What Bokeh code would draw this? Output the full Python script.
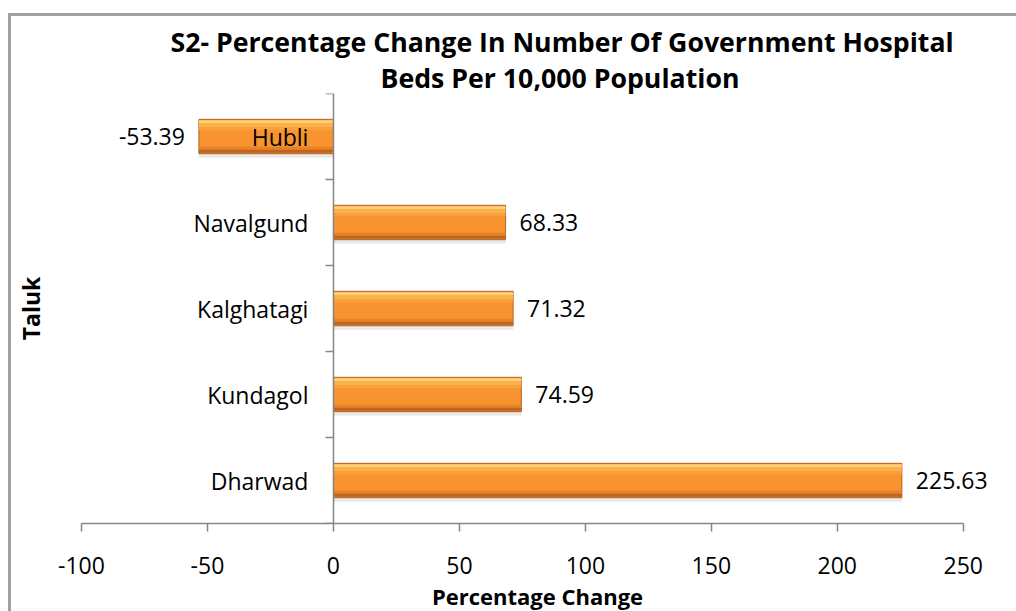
from bokeh.plotting import figure
from bokeh.models import (Range1d, FixedTicker, LinearAxis, Title, ColumnDataSource, LabelSet)
from bokeh.core.properties import value
from bokeh.transform import dodge
from bokeh.embed import file_html
from bokeh.resources import INLINE

talukas = ["Dharwad", "Kundagol", "Kalghatagi", "Navalgund", "Hubli"]
pct_change = [225.63, 74.59, 71.32, 68.33, -53.39]
x_ticks = [-100, -50, 0, 50, 100, 150, 200, 250]
title_line1 = "S2- Percentage Change In Number Of Government Hospital"
title_line2 = "Beds Per 10,000 Population"
x_title = "Percentage Change"
y_title = "Taluk"

FONT = "Open Sans"
AX = "#868686"

ypos = [i + 0.5 for i in range(len(talukas))]
src = ColumnDataSource(dict(y=ypos, v=pct_change))
pos = ColumnDataSource(dict(
    y=[y for y, v in zip(ypos, pct_change) if v >= 0],
    v=[v for v in pct_change if v >= 0],
    lab=["%.2f" % v for v in pct_change if v >= 0]))
neg = ColumnDataSource(dict(
    y=[y for y, v in zip(ypos, pct_change) if v < 0],
    v=[v for v in pct_change if v < 0],
    lab=["%.2f" % v for v in pct_change if v < 0]))

p = figure(width=1005, height=595, output_backend="svg", toolbar_location=None,
           x_range=Range1d(-100, 262), y_range=Range1d(0, len(talukas)),
           min_border_left=70, min_border_right=23, min_border_top=77, min_border_bottom=88,
           styles={"border-top": "3px solid #a0a0a0", "border-left": "3px solid #a0a0a0",
                   "margin-top": "13px", "margin-left": "8px"})
p.frame_width = 912
p.frame_height = 430
p.outline_line_color = None
p.xgrid.visible = False
p.ygrid.visible = False

# x axis
xa = p.xaxis[0]
xa.ticker = FixedTicker(ticks=x_ticks)
xa.bounds = (x_ticks[0], x_ticks[-1])
xa.major_label_overrides = {t: str(t) for t in x_ticks}
xa.axis_line_color = AX
xa.axis_line_width = 1.5
xa.major_tick_line_color = AX
xa.major_tick_line_width = 1.5
xa.major_tick_out = 8
xa.major_tick_in = 0
xa.minor_tick_line_color = None
xa.major_label_text_font = FONT
xa.major_label_text_font_size = "23px"
xa.major_label_text_color = "black"
xa.major_label_standoff = 25
xa.axis_label = x_title
xa.axis_label_text_font = FONT
xa.axis_label_text_font_style = "bold"
xa.axis_label_text_font_size = "22px"
xa.axis_label_text_color = "black"
xa.axis_label_standoff = 4

# primary y axis: only the title
ya = p.yaxis[0]
ya.ticker = FixedTicker(ticks=[])
ya.axis_line_color = None
ya.major_tick_line_color = None
ya.minor_tick_line_color = None
ya.axis_label = y_title
ya.axis_label_text_font = FONT
ya.axis_label_text_font_style = "bold"
ya.axis_label_text_font_size = "23px"
ya.axis_label_text_color = "black"
ya.axis_label_standoff = 35

# bars with bevel look (offsets in bar-height units: 1px ~ 1/86)
PX = 1.0 / 86
H = 0.4
p.hbar(y=dodge("y", -4 * PX), right="v", left=0, height=H, source=src, fill_color="#d4d4d4",
       fill_alpha=0.5, line_color=None)
p.hbar(y="y", right="v", left=0, height=H, source=src, fill_color="#F8932F",
       line_color="#B5611F", line_width=1)
p.hbar(y=dodge("y", H / 2 - 2.5 * PX), right="v", left=0, height=3 * PX, source=src,
       fill_color="#FDD27A", line_color=None)
p.hbar(y=dodge("y", H / 2 - 6 * PX), right="v", left=0, height=4 * PX, source=src,
       fill_color="#FBB24C", line_color=None)
p.hbar(y=dodge("y", H / 2 - 9.5 * PX), right="v", left=0, height=3 * PX, source=src,
       fill_color="#F9A23D", line_color=None)
p.hbar(y=dodge("y", -H / 2 + 5.5 * PX), right="v", left=0, height=3 * PX, source=src,
       fill_color="#E3822A", line_color=None)
p.hbar(y=dodge("y", -H / 2 + 2.5 * PX), right="v", left=0, height=3 * PX, source=src,
       fill_color="#BC6520", line_color=None)

# category axis at x=0: labels at centres, ticks at boundaries
ba = LinearAxis(fixed_location=0,
                ticker=FixedTicker(ticks=ypos, minor_ticks=list(range(len(talukas) + 1))),
                major_label_overrides={y: t for y, t in zip(ypos, talukas)},
                axis_line_color=AX, axis_line_width=1.5, major_tick_line_color=None,
                major_tick_out=0, major_tick_in=0,
                minor_tick_line_color=AX, minor_tick_line_width=1.5,
                minor_tick_out=8, minor_tick_in=0,
                major_label_standoff=17, major_label_orientation="horizontal",
                major_label_text_font=FONT, major_label_text_font_size="23px",
                major_label_text_color="black")
p.add_layout(ba, "left")

# value labels
p.add_layout(LabelSet(x="v", y="y", text="lab", source=pos, x_offset=14, text_align="left",
                      text_baseline="middle", text_font=value(FONT), text_font_size="23px",
                      text_color="black"))
p.add_layout(LabelSet(x="v", y="y", text="lab", source=neg, x_offset=-14, text_align="right",
                      text_baseline="middle", text_font=value(FONT), text_font_size="23px",
                      text_color="black"))

p.add_layout(Title(text=title_line2, align="left", offset=299, text_font=FONT,
                   text_font_style="bold", text_font_size="26.7px", text_color="black",
                   standoff=-5), "above")
p.add_layout(Title(text=title_line1, align="left", offset=89, text_font=FONT,
                   text_font_style="bold", text_font_size="26.7px", text_color="black",
                   standoff=0), "above")

open("out.html", "w").write(file_html(p, INLINE))
